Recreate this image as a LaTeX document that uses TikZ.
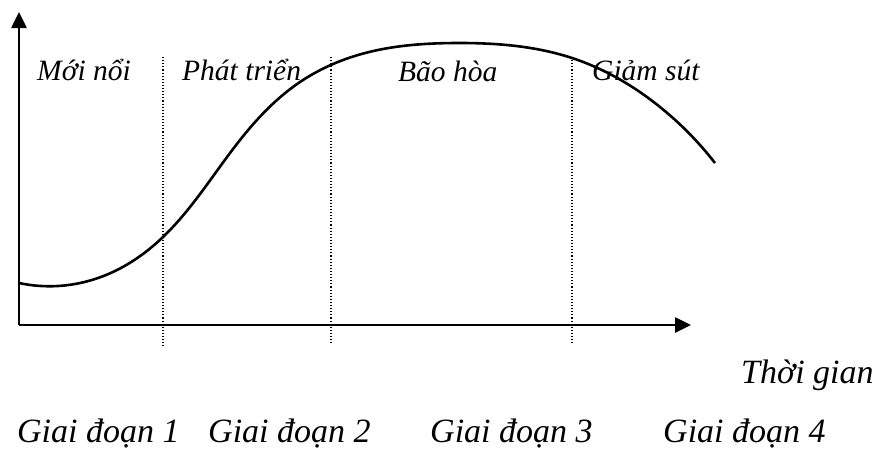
\documentclass[tikz,border=0pt]{standalone}
\usepackage{fontspec}
\setmainfont{Liberation Serif}
\usetikzlibrary{arrows.meta,hobby}
\tikzset{
  axis/.style={line width=2.6pt,-{Triangle[length=16pt,width=15pt]}},
  divider/.style={line width=1.1pt,dash pattern=on 1.1pt off 2pt},
  lifecurve/.style={line width=2.6pt,use Hobby shortcut},
  toplabel/.style={anchor=base west,inner sep=0pt,font=\itshape\fontsize{29.5}{34}\selectfont},
  botlabel/.style={anchor=base west,inner sep=0pt,font=\itshape\fontsize{34}{40}\selectfont}
}
\begin{document}
\begin{tikzpicture}[x=1pt,y=-1pt]
\useasboundingbox (0,0) rectangle (876,448);
\coordinate (O) at (19,325);
\coordinate (Ytip) at (19,12);
\coordinate (Xtip) at (691,325);
\coordinate (d1t) at (163,57); \coordinate (d1b) at (163,347);
\coordinate (d2t) at (331,57); \coordinate (d2b) at (331,343);
\coordinate (d3t) at (572,57); \coordinate (d3b) at (572,343);
\draw[divider] (d1t) -- (d1b);
\draw[divider] (d2t) -- (d2b);
\draw[divider] (d3t) -- (d3b);
\draw[lifecurve] (19,283) .. (58,286) .. (115,271) .. (163,237) .. (240,140) .. (300,82) .. (358,55) .. (457,43) .. (572,58) .. (660,107) .. (715,163);
\draw[axis] (O) -- (Ytip);
\draw[axis] (O) -- (Xtip);
\node[toplabel] (t1) at (37,80) {Mới nổi};
\node[toplabel] (t2) at (182,80) {Phát triển};
\node[toplabel] (t3) at (398,81) {Bão hòa};
\node[toplabel] (t4) at (592,80) {Giảm sút};
\node[botlabel] (tg) at (741,383) {Thời gian};
\node[botlabel] (g1) at (17,442) {Giai đoạn 1};
\node[botlabel] (g2) at (208,442) {Giai đoạn 2};
\node[botlabel] (g3) at (430,442) {Giai đoạn 3};
\node[botlabel] (g4) at (663,442) {Giai đoạn 4};
\end{tikzpicture}
\end{document}
